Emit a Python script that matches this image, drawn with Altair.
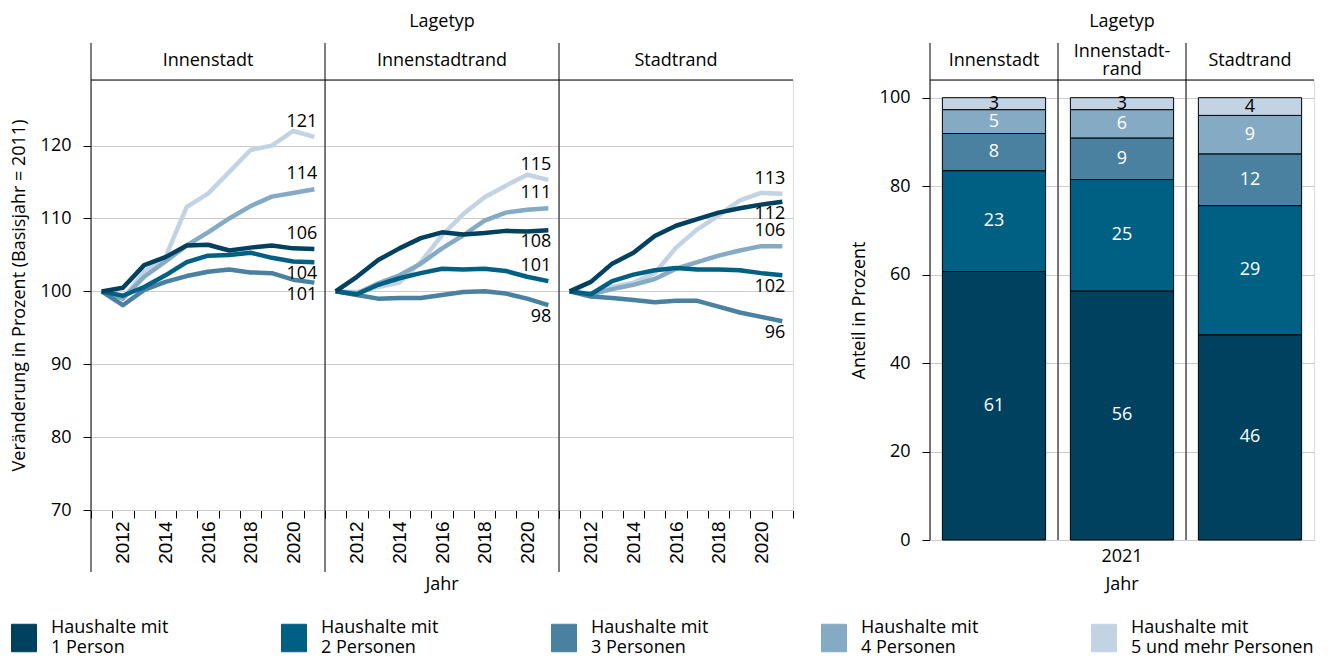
import altair as alt
import pandas as pd

# ---------------- data ----------------
lagetyp = ["Innenstadt", "Innenstadtrand", "Stadtrand"]
lagetyp_kopf_balken = ["Innenstadt", "Innenstadt-\nrand", "Stadtrand"]
haushalte = [
    "Haushalte mit 1 Person",
    "Haushalte mit 2 Personen",
    "Haushalte mit 3 Personen",
    "Haushalte mit 4 Personen",
    "Haushalte mit 5 und mehr Personen",
]
farben = ["#00415f", "#006083", "#4a81a1", "#85aac4", "#c2d4e4"]
jahre = [2011, 2012, 2013, 2014, 2015, 2016, 2017, 2018, 2019, 2020, 2021]

# Veränderung (Basisjahr 2011 = 100), je Haushaltsgröße 1..5
innenstadt_1 = [100, 100.5, 103.6, 104.7, 106.3, 106.4, 105.6, 106.0, 106.3, 105.9, 105.8]
innenstadt_2 = [100, 99.4, 100.6, 102.2, 104.0, 104.9, 105.0, 105.3, 104.6, 104.1, 104.0]
innenstadt_3 = [100, 98.1, 100.2, 101.3, 102.1, 102.7, 103.0, 102.6, 102.5, 101.6, 101.2]
innenstadt_4 = [100, 99.0, 102.0, 104.1, 106.3, 108.1, 110.0, 111.7, 113.0, 113.5, 114.0]
innenstadt_5 = [100, 99.0, 102.7, 104.7, 111.6, 113.4, 116.4, 119.4, 120.0, 122.0, 121.2]

innenstadtrand_1 = [100, 102.0, 104.3, 105.9, 107.3, 108.1, 107.8, 108.0, 108.3, 108.2, 108.4]
innenstadtrand_2 = [100, 99.6, 100.9, 101.8, 102.5, 103.1, 103.0, 103.1, 102.8, 102.0, 101.4]
innenstadtrand_3 = [100, 99.5, 99.0, 99.1, 99.1, 99.5, 99.9, 100.0, 99.7, 99.0, 98.1]
innenstadtrand_4 = [100, 99.7, 101.1, 102.2, 103.8, 105.9, 107.7, 109.7, 110.8, 111.2, 111.4]
innenstadtrand_5 = [100, 99.9, 100.6, 101.2, 104.0, 107.7, 110.6, 112.9, 114.5, 116.0, 115.3]

stadtrand_1 = [100, 101.3, 103.8, 105.3, 107.6, 109.0, 109.9, 110.8, 111.4, 111.9, 112.3]
stadtrand_2 = [100, 99.6, 101.4, 102.3, 102.9, 103.2, 103.0, 103.0, 102.9, 102.5, 102.2]
stadtrand_3 = [100, 99.3, 99.1, 98.8, 98.5, 98.7, 98.7, 97.9, 97.1, 96.5, 95.9]
stadtrand_4 = [100, 99.6, 100.3, 100.9, 101.7, 103.1, 104.0, 104.9, 105.6, 106.2, 106.2]
stadtrand_5 = [100, 99.6, 100.6, 101.2, 102.5, 106.0, 108.5, 110.4, 112.5, 113.5, 113.4]

# Anteil in Prozent 2021, je Haushaltsgröße 1..5
anteil_jahr = 2021
anteil_innenstadt = [60.7, 22.8, 8.4, 5.4, 2.7]
anteil_innenstadtrand = [56.3, 25.2, 9.4, 6.4, 2.7]
anteil_stadtrand = [46.4, 29.2, 11.7, 8.7, 4.0]

reihen = {
    "Innenstadt": [innenstadt_1, innenstadt_2, innenstadt_3, innenstadt_4, innenstadt_5],
    "Innenstadtrand": [innenstadtrand_1, innenstadtrand_2, innenstadtrand_3, innenstadtrand_4, innenstadtrand_5],
    "Stadtrand": [stadtrand_1, stadtrand_2, stadtrand_3, stadtrand_4, stadtrand_5],
}
anteile = {
    "Innenstadt": anteil_innenstadt,
    "Innenstadtrand": anteil_innenstadtrand,
    "Stadtrand": anteil_stadtrand,
}

# end labels placed below the line end
unten = {("Innenstadt", 2), ("Innenstadt", 3),
         ("Innenstadtrand", 1), ("Innenstadtrand", 3),
         ("Stadtrand", 1), ("Stadtrand", 2), ("Stadtrand", 3)}

rows = []
for lt in lagetyp:
    for idx in [5, 4, 3, 2, 1]:
        for j, v in zip(jahre, reihen[lt][idx - 1]):
            rows.append({"Lagetyp": lt, "Haushalt": haushalte[idx - 1], "idx": idx,
                         "Jahr": j, "Wert": v, "unten": (lt, idx) in unten})
df_lines = pd.DataFrame(rows)

rows = []
for lt, kopf in zip(lagetyp, lagetyp_kopf_balken):
    for idx in range(1, 6):
        rows.append({"Lagetyp": lt, "Kopf": kopf, "Haushalt": haushalte[idx - 1], "idx": idx,
                     "Jahr": anteil_jahr, "Anteil": anteile[lt][idx - 1]})
df_bars = pd.DataFrame(rows)

# ---------------- styling ----------------
FONT = "Open Sans"
FS = 18
W_L, H_L = 234, 430
W_R, H_R = 128, 460

color_scale = alt.Scale(domain=haushalte, range=farben)
legend = alt.Legend(title=None, orient="none", legendX=-80, legendY=535,
                    direction="horizontal", columns=5, gridAlign="all",
                    symbolType="M-1,-0.3H1V1.9H-1Z", symbolSize=625,
                    symbolStrokeColor="black", symbolStrokeWidth=1,
                    symbolOpacity=1, labelFont=FONT, labelFontSize=FS,
                    labelExpr="['Haushalte mit', replace(datum.label, 'Haushalte mit ', '')]",
                    labelLimit=400, labelOffset=14, columnPadding=45)

first = "datum.idx == 1 && datum.Jahr == 2011"

# ---------------- left: line chart ----------------
x_l = alt.X("Jahr:O",
            scale=alt.Scale(type="band", paddingInner=0, paddingOuter=0),
            axis=alt.Axis(title=None, tickBand="extent",
                          labelExpr="datum.value % 2 == 0 ? datum.label : ''",
                          labelAngle=270, labelAlign="right", labelBaseline="middle",
                          labelPadding=3, tickSize=8, labelFont="Liberation Sans",
                          labelFontSize=19, grid=False))
y_l = alt.Y("Wert:Q",
            scale=alt.Scale(domain=[70, 129], nice=False, zero=False),
            axis=alt.Axis(values=[70, 80, 90, 100, 110, 120],
                          title="Veränderung in Prozent (Basisjahr = 2011)",
                          domain=False, tickSize=8, labelPadding=12, titlePadding=12,
                          grid=True))

lines = alt.Chart().mark_line(strokeWidth=4.5, strokeJoin="round").encode(
    x=x_l, y=y_l,
    color=alt.Color("Haushalt:N", scale=color_scale, legend=legend),
    detail="idx:N",
)
lab_oben = alt.Chart().mark_text(font=FONT, fontSize=FS, align="right", dx=3, dy=-15).encode(
    x="Jahr:O", y="Wert:Q", text=alt.Text("Wert:Q", format=".0f")
).transform_filter("datum.Jahr == 2021 && !datum.unten")
lab_unten = alt.Chart().mark_text(font=FONT, fontSize=FS, align="right", dx=3, dy=12).encode(
    x="Jahr:O", y="Wert:Q", text=alt.Text("Wert:Q", format=".0f")
).transform_filter("datum.Jahr == 2021 && datum.unten")

sep_l = alt.Chart().mark_rule(color="black", strokeWidth=1).encode(
    x=alt.value(0), y=alt.value(-37), y2=alt.value(H_L + 62)
).transform_filter(first)
top_l = alt.Chart().mark_rule(color="black", strokeWidth=1).encode(
    x=alt.value(0), x2=alt.value(W_L), y=alt.value(0)
).transform_filter(first)
kopf_l = alt.Chart().mark_text(font=FONT, fontSize=FS, baseline="middle").encode(
    x=alt.value(W_L / 2), y=alt.value(-19), text="Lagetyp:N"
).transform_filter(first)
jahr_l = alt.Chart().mark_text(font=FONT, fontSize=FS, baseline="middle").encode(
    x=alt.value(W_L / 2), y=alt.value(H_L + 75), text=alt.value("Jahr")
).transform_filter(first + " && datum.Lagetyp == 'Innenstadtrand'")

left = alt.layer(lines, lab_oben, lab_unten, sep_l, top_l, kopf_l, jahr_l, data=df_lines).properties(
    width=W_L, height=H_L
).facet(
    column=alt.Column("Lagetyp:N", sort=lagetyp,
                      header=alt.Header(labels=False, title="Lagetyp", titleFont=FONT,
                                        titleFontSize=FS, titleFontWeight="normal",
                                        titlePadding=39)),
    spacing=0, bounds="flush",
)

# ---------------- right: stacked bars ----------------
first_b = "datum.idx == 1"
mehrzeilig = "indexof(datum.Kopf, '\\n') >= 0"
bars = alt.Chart().mark_bar(stroke="black", strokeWidth=1).encode(
    x=alt.X("Jahr:O", scale=alt.Scale(paddingInner=0, paddingOuter=0.12),
            axis=alt.Axis(labels=False, ticks=False, title=None, domain=True)),
    y=alt.Y("y0:Q", scale=alt.Scale(domain=[0, 104], nice=False),
            axis=alt.Axis(values=[0, 20, 40, 60, 80, 100], title="Anteil in Prozent",
                          domain=False, tickSize=8, labelPadding=12, titlePadding=11,
                          grid=True)),
    y2="y1:Q",
    color=alt.Color("Haushalt:N", scale=color_scale, legend=legend),
)
bar_txt = alt.Chart().mark_text(font=FONT, fontSize=FS, baseline="middle").encode(
    x="Jahr:O", y="mid:Q", text=alt.Text("Anteil:Q", format=".0f"),
    fill=alt.condition("datum.idx == 5", alt.value("black"), alt.value("white")),
)
sep_r = alt.Chart().mark_rule(color="black", strokeWidth=1).encode(
    x=alt.value(0), y=alt.value(-37), y2=alt.value(H_R)
).transform_filter(first_b)
top_r = alt.Chart().mark_rule(color="black", strokeWidth=1).encode(
    x=alt.value(0), x2=alt.value(W_R), y=alt.value(0)
).transform_filter(first_b)
kopf_r1 = alt.Chart().mark_text(font=FONT, fontSize=FS, baseline="middle").encode(
    x=alt.value(W_R / 2), y=alt.value(-19), text="Kopf:N"
).transform_filter(first_b + " && !(" + mehrzeilig + ")")
kopf_r2 = alt.Chart().mark_text(font=FONT, fontSize=FS, baseline="middle",
                                lineBreak="\n", lineHeight=18).encode(
    x=alt.value(W_R / 2), y=alt.value(-28), text="Kopf:N"
).transform_filter(first_b + " && " + mehrzeilig)
jahrlab_r = alt.Chart().mark_text(font=FONT, fontSize=FS, baseline="middle").encode(
    x=alt.value(W_R / 2), y=alt.value(H_R + 17), text="Jahr:N"
).transform_filter(first_b + " && datum.Lagetyp == 'Innenstadtrand'")
jahr_r = alt.Chart().mark_text(font=FONT, fontSize=FS, baseline="middle").encode(
    x=alt.value(W_R / 2), y=alt.value(H_R + 45), text=alt.value("Jahr")
).transform_filter(first_b + " && datum.Lagetyp == 'Innenstadtrand'")

right = alt.layer(bars, bar_txt, sep_r, top_r, kopf_r1, kopf_r2, jahrlab_r, jahr_r,
                  data=df_bars).transform_stack(
    stack="Anteil", groupby=["Lagetyp"], as_=["y0", "y1"],
    sort=[alt.SortField("idx", order="ascending")]
).transform_calculate(mid="(datum.y0 + datum.y1) / 2").properties(
    width=W_R, height=H_R
).facet(
    column=alt.Column("Lagetyp:N", sort=lagetyp,
                      header=alt.Header(labels=False, title="Lagetyp", titleFont=FONT,
                                        titleFontSize=FS, titleFontWeight="normal",
                                        titlePadding=39)),
    spacing=0, bounds="flush",
)

chart = alt.hconcat(left, right, spacing=56).resolve_scale(color="shared").properties(
    padding={"left": 2, "top": 5, "right": 2, "bottom": 2}
).configure_view(stroke=None).configure(font=FONT).configure_axis(
    labelFont=FONT, labelFontSize=FS, labelColor="black",
    titleFont=FONT, titleFontSize=FS, titleFontWeight="normal", titleColor="black",
    tickColor="black", domainColor="black", gridColor="#cccccc", gridWidth=1.2,
)

chart.save("out.html", embed_options={"renderer": "svg", "actions": False})
